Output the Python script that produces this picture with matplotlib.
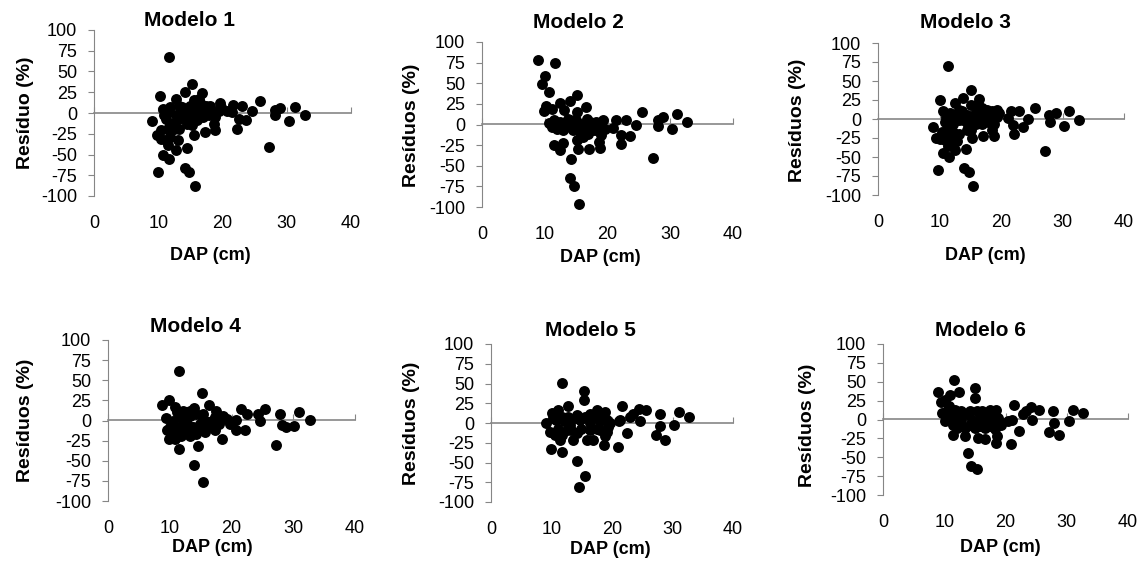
import numpy as np
import matplotlib.pyplot as plt

plt.rcParams['font.family'] = ['Liberation Sans', 'DejaVu Sans']
plt.rcParams['axes.unicode_minus'] = False

W, H = 1148, 565

# residuals: (DAP cm, residual %)
m1_x = [11.7, 10.2, 9.1, 10.8, 9.8, 10.4, 11.2, 11.5, 11.9, 13.0, 12.7, 10.8, 11.7, 10.0, 14.4, 14.1,
        14.8, 15.7, 15.6, 17.2, 18.9, 18.7, 15.3, 14.2, 16.8, 12.8, 15.6, 11.9, 13.2, 13.7, 14.5, 16.1,
        16.6, 17.4, 18.1, 19.6, 19.4, 18.4, 17.6, 20.7, 21.6, 23.0, 21.5, 22.5, 22.3, 23.6, 24.6, 25.8,
        27.3, 28.1, 29.0, 28.2, 30.4, 31.3, 32.9, 11.2, 11.6, 12.4, 13.2, 14.0, 14.8, 15.3, 16.1, 16.6,
        15.8, 15.0, 13.5, 11.9, 12.5, 10.4, 10.9, 11.7, 12.7, 13.5, 15.8, 16.9, 17.9, 18.9, 19.7, 15.0,
        16.3, 13.2, 14.5]
m1_y = [67, 20, -10, 5, -27, -31, -33, -39, -29, -33, -45, -51, -56, -71, -42, -66,
        -71, -88, -26, -23, -20, -13, 35, 25, 24, 17, 16, 7, 9, 7, 3, 9,
        11, 9, 9, 12, 3, 3, 3, 3, 10, 9, 1, -7, -19, -9, 2, 15,
        -41, 4, 6, -3, -10, 7, -3, -7, -17, -12, -7, -3, -9, -15, -9, -1,
        -3, -3, -5, -23, -19, -21, -3, 1, -3, 3, 5, -5, -3, -5, 7, 9,
        17, -19, -13]

m2_x = [9.0, 11.6, 10.1, 9.6, 10.6, 15.1, 12.5, 14.0, 10.2, 11.2, 9.9, 13.1, 16.6, 15.2, 25.5, 28.9,
        31.1, 28.1, 32.7, 30.3, 28.1, 27.2, 24.5, 22.2, 23.6, 22.1, 21.4, 22.9, 20.9, 19.3, 18.2, 19.0,
        18.7, 18.8, 17.0, 15.3, 15.1, 16.1, 16.9, 16.7, 15.6, 14.5, 14.0, 12.9, 11.9, 11.1, 10.6, 11.4,
        12.4, 12.9, 14.2, 14.0, 14.7, 15.4, 17.7, 17.5, 18.5, 15.6, 13.7, 12.4, 11.6, 14.0, 16.1, 17.2,
        18.0, 19.0, 19.6, 11.4, 12.1, 13.2, 15.0]
m2_y = [78, 75, 59, 49, 39, 36, 26, 28, 23, 19, 16, 17, 21, 15, 15, 9,
        13, 6, 3, -6, -2, -40, -1, -13, -14, -24, 6, 6, -4, 6, 3, -13,
        -21, -29, -30, -30, -19, -15, -11, 7, 1, -7, -3, -7, -6, -3, 2, -25,
        -31, -22, -42, -65, -74, -96, -2, -7, -3, -9, 7, 3, 3, 5, -3, 3,
        -7, 1, -5, 5, -1, -1, 5]

m3_x = [11.4, 10.0, 10.5, 8.9, 9.4, 10.1, 10.9, 11.4, 12.0, 12.8, 12.5, 10.5, 11.6, 9.8, 14.3, 14.0,
        14.8, 15.5, 15.3, 17.0, 18.8, 18.6, 15.1, 13.9, 16.5, 12.6, 15.2, 11.7, 13.2, 13.6, 14.4, 16.3,
        16.9, 17.7, 18.5, 19.3, 19.3, 18.2, 17.4, 21.1, 21.6, 22.9, 22.0, 22.1, 23.5, 24.4, 25.5, 27.2,
        27.8, 28.9, 28.0, 30.2, 31.1, 32.7, 10.9, 11.4, 12.2, 13.1, 13.9, 14.7, 15.2, 16.0, 16.6, 15.8,
        15.0, 11.7, 12.2, 10.4, 11.0, 12.6, 13.4, 15.8, 16.9, 17.9, 18.9, 19.7, 16.3, 13.2, 14.5]
m3_y = [70, 25, 10, -11, -25, -26, -28, -36, -28, -29, -41, -45, -50, -67, -39, -64,
        -70, -88, -25, -23, -22, -14, 38, 28, 26, 21, 18, 8, 12, 11, 5, 12,
        14, 12, 10, 12, 3, 3, 3, 1, 11, 10, -8, -20, -11, 0, 15, -42,
        5, 8, -4, -9, 10, -1, -4, -12, -6, -1, -1, -8, -14, -6, -1, -1,
        1, -21, -17, -17, 2, 0, 4, 6, -6, -4, -6, 8, 20, -20, -14]

m4_x = [11.5, 15.2, 8.8, 9.9, 9.4, 10.8, 12.5, 13.9, 16.4, 17.5, 15.4, 13.3, 11.7, 18.7, 19.2, 21.5,
        20.8, 22.5, 24.3, 25.4, 24.6, 20.8, 22.2, 18.5, 17.3, 15.7, 14.6, 14.0, 15.4, 11.5, 9.8, 10.8,
        11.9, 13.3, 14.3, 10.0, 11.1, 12.2, 13.5, 14.9, 16.0, 16.8, 17.9, 19.7, 27.8, 27.2, 28.1, 28.9,
        30.2, 30.9, 32.7, 12.7, 10.6, 9.5, 10.6, 11.7, 12.7, 13.8, 14.9, 16.2, 17.3, 18.4, 12.2, 13.3,
        14.3, 15.4, 11.1]
m4_y = [61, 34, 19, 25, 3, 17, 11, 15, 19, 12, 8, 6, 4, 5, 2, 14,
        1, 8, 8, 14, -1, -12, -12, -23, -12, -14, -32, -55, -77, -35, -23, -23,
        -19, -19, -17, -8, -8, -6, -8, -4, -8, 0, -4, -4, 8, -30, -5, -8,
        -7, 10, 1, 0, 0, -12, -14, -10, -12, -8, -12, -2, 4, 2, 12, 12,
        8, 2, 10]

m5_x = [11.8, 15.3, 15.3, 12.8, 11.1, 10.1, 9.1, 9.8, 10.6, 11.4, 9.9, 11.7, 14.2, 15.6, 14.6, 13.6,
        15.8, 16.9, 18.7, 18.8, 21.0, 21.7, 24.4, 25.6, 24.6, 22.4, 21.3, 23.0, 27.9, 27.9, 27.2, 28.8,
        30.3, 31.1, 32.7, 17.5, 18.8, 16.4, 14.2, 10.8, 12.0, 13.1, 14.7, 16.4, 18.0, 19.4, 12.5, 14.2,
        11.1, 17.5, 10.3, 11.7, 12.8, 13.9, 15.5, 16.9, 18.3, 19.1, 19.7, 13.3, 14.8, 16.4, 18.0, 19.1,
        11.7, 21.1, 23.5]
m5_y = [51, 41, 29, 21, 16, 13, 0, -11, -15, -22, -33, -37, -48, -67, -81, -21,
        -22, -22, -28, -17, -30, 21, 18, 16, 2, -13, 4, 8, 12, -4, -15, -21,
        -3, 14, 7, 16, 14, 12, 10, 4, 2, -3, 4, 0, 2, -5, -9, -13,
        -7, -7, 6, 8, 8, 6, 8, 8, 6, 4, 0, -9, -7, -9, -9, -11,
        -15, 2, 12]

m6_x = [11.6, 8.9, 12.4, 15.0, 15.0, 10.9, 9.5, 10.1, 9.6, 10.7, 10.1, 11.4, 13.4, 13.9, 14.3, 15.4,
        15.5, 16.6, 18.4, 18.6, 20.9, 21.4, 24.2, 25.5, 24.4, 22.2, 21.1, 22.9, 27.8, 27.9, 27.1, 28.7,
        30.3, 31.0, 32.6, 17.4, 18.5, 16.1, 11.2, 12.0, 12.8, 13.7, 14.5, 15.8, 16.9, 18.0, 19.1, 12.6,
        14.2, 15.8, 17.4, 10.7, 11.5, 10.4, 11.7, 12.8, 14.2, 15.3, 16.6, 18.0, 18.8, 19.3, 12.0, 13.4,
        15.0, 16.6, 18.3, 10.1, 20.4, 23.4]
m6_y = [52, 37, 37, 42, 29, 33, 23, 26, 9, 18, -2, -20, -22, -44, -62, -66,
        -24, -26, -31, -22, -32, 19, 17, 13, 0, -15, 0, 7, 11, -4, -17, -20,
        -2, 13, 8, 13, 12, 11, 9, 4, 0, 7, 0, 2, 0, 0, -4, -7,
        -7, -9, -9, 0, -7, 11, 13, 11, 11, 11, 7, 7, 2, -7, -11, -11,
        -11, -11, -13, 7, -2, 11]

titles = ['Modelo 1', 'Modelo 2', 'Modelo 3', 'Modelo 4', 'Modelo 5', 'Modelo 6']
ylabels = ['Resíduo (%)', 'Resíduos (%)', 'Resíduos (%)', 'Resíduos (%)', 'Resíduos (%)', 'Resíduos (%)']
xs = [m1_x, m2_x, m3_x, m4_x, m5_x, m6_x]
ys = [m1_y, m2_y, m3_y, m4_y, m5_y, m6_y]

# plot boxes in pixels: left, right, top(+100), bottom(-100)
boxes = [(94, 351, 30, 196), (482, 733, 42, 207), (878, 1124, 43, 195),
         (108, 355, 340, 501), (491, 733, 344, 502), (883, 1128, 344, 495)]
title_pos = [(190, 20), (578, 22), (965, 22), (195, 327), (590, 330), (980, 330)]
xlab_pos = [(210, 255), (600, 257), (985, 255), (212, 548), (610, 550), (1000, 548)]
ylab_pos = [(25, 113), (412, 125), (797, 120), (25, 420), (412, 423), (807, 425)]

grey = '#868686'

fig = plt.figure(figsize=(W / 100, H / 100), dpi=100)

for i in range(6):
    l, r, t, b = boxes[i]
    ax = fig.add_axes([l / W, 1 - b / H, (r - l) / W, (b - t) / H])
    ax.scatter(xs[i], ys[i], s=62, color='black', linewidths=0, zorder=3, clip_on=False)
    ax.set_xlim(0, 40)
    ax.set_ylim(-100, 100)
    ax.set_yticks(np.arange(-100, 101, 25))
    ax.set_xticks(np.arange(0, 41, 10))
    for s in ['top', 'right', 'bottom']:
        ax.spines[s].set_visible(False)
    ax.spines['left'].set_color(grey)
    ax.tick_params(axis='y', direction='out', length=4, color=grey, labelsize=13, pad=8)
    ax.tick_params(axis='x', length=0, labelsize=13, pad=14)
    ax.patch.set_alpha(0)

    # horizontal axis crosses at zero
    sec = ax.secondary_xaxis(0.5)
    sec.set_xticks(np.arange(0, 41, 10))
    sec.set_xticklabels([])
    sec.tick_params(direction='out', length=4, color=grey)
    for sp in sec.spines.values():
        sp.set_color(grey)
        sp.set_linewidth(1.2)

    fig.text(title_pos[i][0] / W, 1 - title_pos[i][1] / H, titles[i], ha='center', va='center',
             fontsize=15, fontweight='bold')
    fig.text(xlab_pos[i][0] / W, 1 - xlab_pos[i][1] / H, 'DAP (cm)', ha='center', va='center',
             fontsize=13, fontweight='bold')
    fig.text(ylab_pos[i][0] / W, 1 - ylab_pos[i][1] / H, ylabels[i], ha='center', va='center',
             rotation=90, fontsize=14, fontweight='bold')

fig.savefig('out.png', dpi=100)
